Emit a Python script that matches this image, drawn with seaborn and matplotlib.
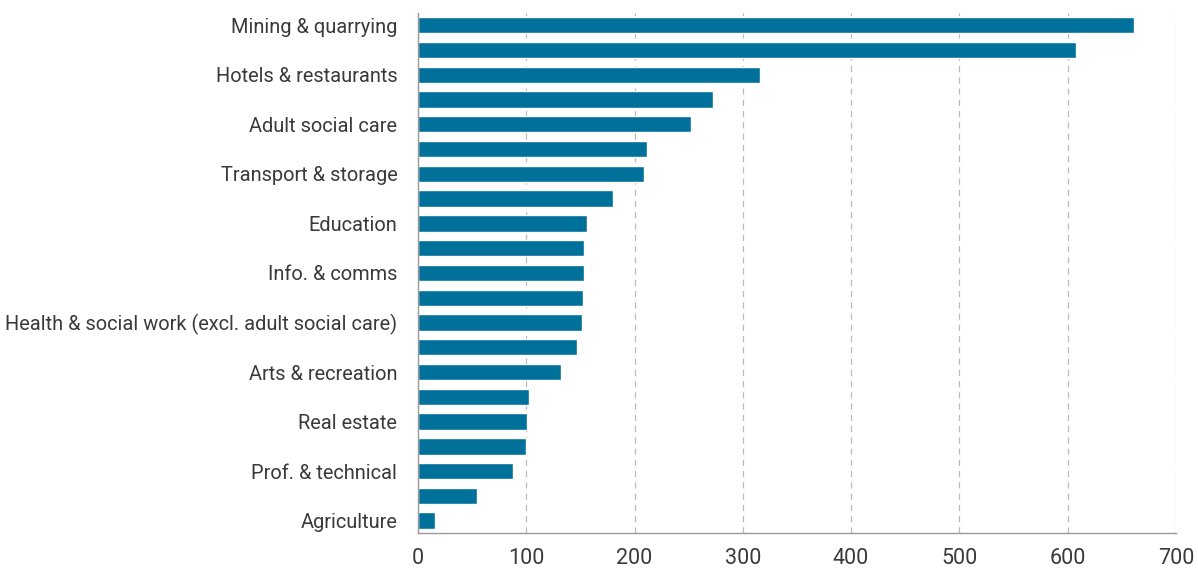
import numpy as np
import matplotlib
matplotlib.use('Agg')
import matplotlib.pyplot as plt
import pandas as pd
import seaborn as sns

# sectors, top to bottom (only every other bar carries a label)
sector_labels = ['Mining & quarrying', '', 'Hotels & restaurants', '',
                 'Adult social care', '', 'Transport & storage', '',
                 'Education', '', 'Info. & comms', '',
                 'Health & social work (excl. adult social care)', '',
                 'Arts & recreation', '', 'Real estate', '',
                 'Prof. & technical', '', 'Agriculture']
values = [661, 608, 316, 272, 252, 211, 209, 180, 156, 153, 153,
          152, 151, 147, 132, 102.5, 100.5, 100, 88, 54.5, 15.5]
x_ticks = [0, 100, 200, 300, 400, 500, 600, 700]

df = pd.DataFrame({'pos': [str(i) for i in range(len(values))],
                   'value': values})

sns.set_theme(style='white')
plt.rcParams['font.family'] = ['Roboto', 'DejaVu Sans']

fig = plt.figure(figsize=(11.98, 5.71), dpi=100)
ax = fig.add_axes([0.349, 0.0665, 0.6325, 0.911])

sns.barplot(data=df, x='value', y='pos', orient='h', color='#00719b',
            saturation=1, width=0.66, ax=ax)

ax.set_xlim(0, 700)
ax.set_xticks(x_ticks)
ax.set_xticklabels([str(t) for t in x_ticks], fontsize=15.5,
                   color='#3a3a3a')
ax.set_yticks(range(len(sector_labels)))
ax.set_yticklabels(sector_labels, fontsize=14.4, color='#3a3a3a')
ax.tick_params(axis='y', length=0, pad=15)
ax.tick_params(axis='x', length=0, pad=11)
ax.set_xlabel('')
ax.set_ylabel('')

ax.xaxis.grid(True, linestyle=(0, (5, 4)), color='#bbbbbb', linewidth=0.9)
ax.set_axisbelow(True)
for s in ['top', 'right']:
    ax.spines[s].set_visible(False)
for s in ['left', 'bottom']:
    ax.spines[s].set_color('#999999')
    ax.spines[s].set_linewidth(1)

plt.savefig('out.png', dpi=100)
